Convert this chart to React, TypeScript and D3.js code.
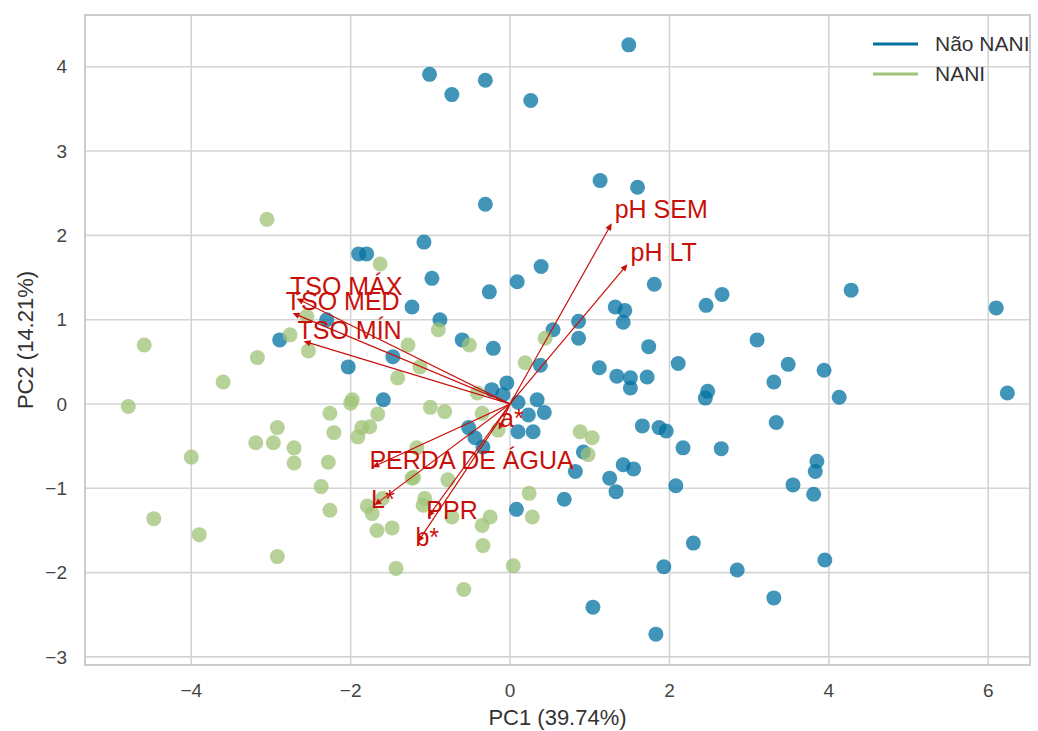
import React from "react";
import * as d3 from "d3";

// PCA scores per class (PC1, PC2)
const naoNani: [number, number][] = [
  [1.49, 4.26], [-1.01, 3.91], [-0.73, 3.67], [-0.31, 3.84], [0.26, 3.6],
  [1.13, 2.65], [1.6, 2.57], [-0.31, 2.37], [-1.08, 1.92], [-1.9, 1.78],
  [-1.8, 1.78], [0.39, 1.63], [0.09, 1.45], [-0.98, 1.49], [-0.26, 1.33],
  [1.81, 1.42], [2.66, 1.3], [2.46, 1.17], [4.28, 1.35], [6.1, 1.14],
  [6.24, 0.13], [-1.23, 1.15], [-2.3, 1.0], [-0.88, 1.0], [0.86, 0.98],
  [1.32, 1.15], [1.44, 1.11], [1.42, 0.97], [-2.89, 0.76], [-0.6, 0.76],
  [-0.21, 0.66], [0.86, 0.78], [3.1, 0.76], [1.74, 0.68], [2.11, 0.48],
  [1.12, 0.43], [0.38, 0.46], [-1.47, 0.56], [-2.03, 0.44], [3.49, 0.47],
  [3.94, 0.4], [3.31, 0.26], [1.34, 0.33], [1.51, 0.31], [1.72, 0.32],
  [1.51, 0.19], [2.48, 0.15], [2.45, 0.07], [4.13, 0.08], [-1.59, 0.05],
  [-0.23, 0.17], [-0.04, 0.25], [-0.09, 0.11], [0.1, 0.02], [0.34, 0.05],
  [0.43, -0.1], [0.23, -0.13], [0.1, -0.33], [0.29, -0.33], [-0.52, -0.28],
  [-0.44, -0.4], [-0.34, -0.51], [0.54, 0.88], [1.66, -0.26], [1.87, -0.28],
  [1.96, -0.32], [3.34, -0.22], [2.17, -0.52], [2.65, -0.53], [1.42, -0.72],
  [1.55, -0.77], [1.25, -0.88], [1.33, -1.04], [2.08, -0.97], [3.85, -0.68],
  [3.83, -0.8], [3.55, -0.96], [3.81, -1.07], [2.3, -1.65], [1.93, -1.93],
  [2.85, -1.97], [3.95, -1.85], [3.31, -2.3], [1.04, -2.41], [1.83, -2.73],
  [0.82, -0.8], [0.92, -0.57], [0.68, -1.13], [0.08, -1.25],
];

const nani: [number, number][] = [
  [-3.05, 2.19], [-1.63, 1.66], [-2.55, 1.04], [-2.76, 0.82], [-2.53, 0.63],
  [-4.59, 0.7], [-3.17, 0.55], [-3.6, 0.26], [-4.79, -0.03], [-1.28, 0.7],
  [-1.41, 0.31], [-1.98, 0.05], [-2.0, 0.01], [-1.66, -0.12], [-2.26, -0.11],
  [-2.92, -0.28], [-2.21, -0.34], [-1.86, -0.28], [-1.76, -0.27], [-1.91, -0.39],
  [-3.19, -0.46], [-2.97, -0.46], [-2.71, -0.52], [-2.71, -0.7], [-2.28, -0.69],
  [-4.0, -0.63], [-2.37, -0.98], [-2.26, -1.26], [-4.47, -1.36], [-3.9, -1.55],
  [-2.92, -1.81], [-1.79, -1.21], [-1.6, -1.12], [-1.73, -1.3], [-1.67, -1.5],
  [-1.48, -1.47], [-1.43, -1.95], [-1.23, -0.88], [-0.9, 0.88], [-0.51, 0.7],
  [-1.13, 0.44], [0.44, 0.78], [0.19, 0.49], [-1.0, -0.04], [-0.82, -0.09],
  [-0.41, 0.13], [-0.35, -0.11], [-1.17, -0.52], [-0.15, -0.31], [0.88, -0.33],
  [1.03, -0.4], [0.98, -0.6], [-0.78, -0.9], [-1.07, -1.12], [-1.09, -1.2],
  [-0.73, -1.34], [-0.35, -1.44], [-0.25, -1.34], [-0.34, -1.68], [-0.58, -2.2],
  [0.04, -1.92], [0.24, -1.06], [0.28, -1.34], [-1.21, -0.87],
];

// biplot loadings
const features = ["pH SEM", "pH LT", "TSO MÁX", "TSO MED", "TSO MÍN", "PERDA DE ÁGUA", "L*", "PPR", "b*", "a*"];
const loadPC1 = [1.25, 1.44, -2.63, -2.68, -2.54, -1.68, -1.66, -1.0, -1.13, -0.12];
const loadPC2 = [2.1, 1.62, 1.23, 1.06, 0.73, -0.73, -1.17, -1.3, -1.6, -0.26];

const classes = ["Não NANI", "NANI"];
const classColors = ["#0272a2", "#9fc377"];

const xTicks = [-4, -2, 0, 2, 4, 6];
const yTicks = [-3, -2, -1, 0, 1, 2, 3, 4];

const W = 1038;
const H = 731;
const margin = { left: 85, right: 8, top: 15, bottom: 66 };
const font = "'Liberation Sans', Arial, sans-serif";
const red = "#c8100a";

export default function App() {
  const x = d3.scaleLinear().domain([-5.333, 6.524]).range([margin.left, W - margin.right]);
  const y = d3.scaleLinear().domain([-3.096, 4.614]).range([H - margin.bottom, margin.top]);
  const fmt = (v: number) => (v < 0 ? "\u2212" + Math.abs(v) : String(v));

  const arrows = features.map((f, i) => {
    const x0 = x(0), y0 = y(0);
    const x1 = x(loadPC1[i]), y1 = y(loadPC2[i]);
    const dx = x1 - x0, dy = y1 - y0;
    const len = Math.hypot(dx, dy);
    const ux = dx / len, uy = dy / len;
    const hl = 7, hw = 3.2;
    const tipX = x1 + ux * hl * 0.6, tipY = y1 + uy * hl * 0.6;
    const bx = tipX - ux * hl, by = tipY - uy * hl;
    const head = [
      [tipX, tipY],
      [bx - uy * hw, by + ux * hw],
      [bx + uy * hw, by - ux * hw],
    ];
    return { f, x0, y0, x1, y1, head, lx: x(loadPC1[i] * 1.05), ly: y(loadPC2[i] * 1.05) };
  });

  return (
    <svg width={W} height={H} style={{ position: "absolute", left: 0, top: 0, background: "#fff" }} fontFamily={font}>
      {/* grid */}
      {xTicks.map((t) => (
        <line key={"gx" + t} x1={x(t)} x2={x(t)} y1={margin.top} y2={H - margin.bottom} stroke="#d4d4d4" strokeWidth={1.6} />
      ))}
      {yTicks.map((t) => (
        <line key={"gy" + t} x1={margin.left} x2={W - margin.right} y1={y(t)} y2={y(t)} stroke="#d4d4d4" strokeWidth={1.6} />
      ))}
      <rect x={margin.left} y={margin.top} width={W - margin.left - margin.right} height={H - margin.top - margin.bottom}
        fill="none" stroke="#cccccc" strokeWidth={2} />

      {/* tick labels */}
      {xTicks.map((t) => (
        <text key={"tx" + t} x={x(t)} y={H - margin.bottom + 32} textAnchor="middle" fontSize={19} fill="#444">{fmt(t)}</text>
      ))}
      {yTicks.map((t) => (
        <text key={"ty" + t} x={margin.left - 18} y={y(t)} dy="0.35em" textAnchor="end" fontSize={19} fill="#444">{fmt(t)}</text>
      ))}

      {/* axis labels */}
      <text x={(margin.left + W - margin.right) / 2} y={H - 6} textAnchor="middle" fontSize={22} fill="#333">PC1 (39.74%)</text>
      <text transform={`translate(33,${(margin.top + H - margin.bottom) / 2}) rotate(-90)`} textAnchor="middle" fontSize={22} fill="#333">PC2 (14.21%)</text>

      {/* points */}
      {[naoNani, nani].map((pts, ci) => (
        <g key={"c" + ci}>
          {pts.map((p, i) => (
            <circle key={i} cx={x(p[0])} cy={y(p[1])} r={7.5} fill={classColors[ci]} fillOpacity={0.75} />
          ))}
        </g>
      ))}

      {/* loadings */}
      {arrows.map((a) => (
        <g key={a.f}>
          <line x1={a.x0} y1={a.y0} x2={a.x1} y2={a.y1} stroke={red} strokeWidth={1.2} />
          <polygon points={a.head.map((p) => p.join(",")).join(" ")} fill={red} />
        </g>
      ))}
      {arrows.map((a) => (
        <text key={"l" + a.f} x={a.lx} y={a.ly} fontSize={25} fill={red}>{a.f}</text>
      ))}

      {/* legend */}
      {classes.map((c, i) => (
        <g key={c} transform={`translate(873,${44 + i * 30})`}>
          <line x1={0} x2={45} y1={0} y2={0} stroke={classColors[i]} strokeWidth={3} />
          <text x={62} y={0} dy="0.35em" fontSize={21} fill="#333">{c}</text>
        </g>
      ))}
    </svg>
  );
}
